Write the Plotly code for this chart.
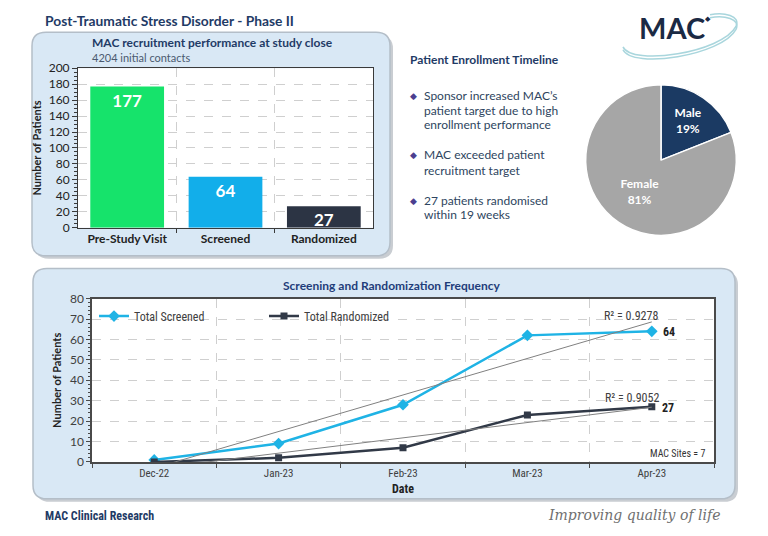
import numpy as np
import plotly.graph_objects as go

# ---------------- data ----------------
bar_categories = ["Pre-Study Visit", "Screened", "Randomized"]
bar_values = [177, 64, 27]
bar_colors = ["#16E36B", "#12AEEA", "#2C3444"]

gender_labels = ["Male", "Female"]
gender_values = [19, 81]

months = ["Dec-22", "Jan-23", "Feb-23", "Mar-23", "Apr-23"]
total_screened = [1, 9, 28, 62, 64]
total_randomized = [0, 2, 7, 23, 27]

bullets = [
    ["Sponsor increased MAC\u2019s", "patient target due to high", "enrollment performance"],
    ["MAC exceeded patient", "recruitment target"],
    ["27 patients randomised", "within 19 weeks"],
]

# ---------------- helpers ----------------
W, H = 768, 536
def X(px): return px / W
def Y(py): return 1 - py / H

def rrect(x0, y0, x1, y1, r):
    return (f"M {X(x0+r)},{Y(y0)} L {X(x1-r)},{Y(y0)} Q {X(x1)},{Y(y0)} {X(x1)},{Y(y0+r)} "
            f"L {X(x1)},{Y(y1-r)} Q {X(x1)},{Y(y1)} {X(x1-r)},{Y(y1)} "
            f"L {X(x0+r)},{Y(y1)} Q {X(x0)},{Y(y1)} {X(x0)},{Y(y1-r)} "
            f"L {X(x0)},{Y(y0+r)} Q {X(x0)},{Y(y0)} {X(x0+r)},{Y(y0)} Z")

FONT = "Lato, Open Sans, sans-serif"
NARROW = "Liberation Sans Narrow, Roboto Condensed, Lato, sans-serif"
NAVY = "#1F3B66"
TXT = "#2E4560"

fig = go.Figure()

# ---------------- bar chart ----------------
bx = list(range(len(bar_categories)))
fig.add_trace(go.Bar(
    x=bx, y=bar_values, marker=dict(color=bar_colors, line=dict(width=0)),
    width=0.75, text=[str(v) for v in bar_values], textposition="inside",
    insidetextanchor="end", textangle=0, constraintext="none",
    textfont=dict(color="white", size=17, family=FONT, weight="bold"),
    xaxis="x", yaxis="y", showlegend=False, hoverinfo="skip"))

# ---------------- pie ----------------
fig.add_trace(go.Pie(
    labels=gender_labels, values=gender_values, sort=False, direction="clockwise",
    rotation=0, marker=dict(colors=["#1B3A63", "#A6A6A6"], line=dict(color="white", width=1.5)),
    texttemplate="<b>%{label}<br>%{percent:.0%}</b>", textposition="inside",
    insidetextorientation="horizontal",
    textfont=dict(color="white", size=12, family=FONT),
    domain=dict(x=[X(583), X(739)], y=[Y(234), Y(79)]), showlegend=False, hoverinfo="skip"))

# ---------------- line chart ----------------
lx = np.arange(len(months))
fig.add_trace(go.Scatter(
    x=lx, y=total_screened, mode="lines+markers", name="Total Screened",
    line=dict(color="#1FB3E5", width=2.5), marker=dict(symbol="diamond", size=9, color="#1FB3E5"),
    xaxis="x2", yaxis="y2"))
fig.add_trace(go.Scatter(
    x=lx, y=total_randomized, mode="lines+markers", name="Total Randomized",
    line=dict(color="#313947", width=2.5), marker=dict(symbol="square", size=7, color="#313947"),
    xaxis="x2", yaxis="y2"))

# linear trendlines (fitted to the series)
for series in (total_screened, total_randomized):
    k, b = np.polyfit(lx, series, 1)
    fig.add_trace(go.Scatter(
        x=lx, y=k * lx + b, mode="lines", line=dict(color="#808080", width=1),
        xaxis="x2", yaxis="y2", showlegend=False, hoverinfo="skip"))

# ---------------- shapes ----------------
shapes = []
for (x0, y0, x1, y1) in [(32, 25, 390, 255), (33, 268, 735, 505)]:
    shapes.append(dict(type="path", xref="paper", yref="paper", layer="below",
                       path=rrect(x0 + 3, y0 + 3, x1 + 3, y1 + 3, 14),
                       fillcolor="#C9CDD2", line=dict(width=0)))
    shapes.append(dict(type="path", xref="paper", yref="paper", layer="below",
                       path=rrect(x0, y0, x1, y1, 14),
                       fillcolor="#D9E8F5", line=dict(color="#B4BEC8", width=1.5)))
for xr, yr in [("x", "y"), ("x2", "y2")]:
    shapes.append(dict(type="rect", xref=f"{xr} domain", yref=f"{yr} domain", layer="below",
                       x0=0, x1=1, y0=0, y1=1, fillcolor="white", line=dict(width=0)))

# logo swoosh
for off in (0, 3):
    p = [(623, 40 + off), (632, 60 + off), (722, 46 + off), (736, 19 + off), (741, 8 + off), (724, 4 + off), (710, 7 + off)]
    path = (f"M {X(p[0][0])},{Y(p[0][1])} C {X(p[1][0])},{Y(p[1][1])} {X(p[2][0])},{Y(p[2][1])} {X(p[3][0])},{Y(p[3][1])} "
            f"C {X(p[4][0])},{Y(p[4][1])} {X(p[5][0])},{Y(p[5][1])} {X(p[6][0])},{Y(p[6][1])}")
    shapes.append(dict(type="path", xref="paper", yref="paper", path=path,
                       line=dict(color="#A9D6DD", width=1.5)))

# ---------------- annotations ----------------
ann = []
def txt(x, y, s, size=12, color=TXT, bold=False, xanchor="left", family=FONT, italic=False, **kw):
    ann.append(dict(x=X(x), y=Y(y), xref="paper", yref="paper", text=s, showarrow=False,
                    xanchor=xanchor, yanchor="middle",
                    font=dict(size=size, color=color, family=family,
                              weight="bold" if bold else "normal",
                              style="italic" if italic else "normal"), **kw))

txt(43, 13, "Post-Traumatic Stress Disorder - Phase II", 13.8, NAVY, True)
txt(90, 35, "MAC recruitment performance at study close", 12, NAVY, True)
txt(90, 51, "4204 initial contacts", 11, "#4A5A70")
txt(408, 53, "Patient Enrollment Timeline", 12, NAVY, True)

ys = [[90, 105, 120], [151, 167], [198, 212]]
for lines, yy in zip(bullets, ys):
    txt(413, yy[0], "\u25C6", 9, "#4B3F8F", xanchor="center")
    for line, y in zip(lines, yy):
        txt(422, y, line, 12, TXT)

# logo
txt(672, 20, "MAC", 29, "#1B2A44", True, xanchor="center")
txt(708, 10, "\u25C6", 7, "#1B2A44", xanchor="center")

txt(392, 286, "Screening and Randomization Frequency", 12, "#1F3D7A", True, xanchor="center")
txt(631, 317, "R\u00b2 = 0.9278", 12, "#404040", xanchor="center", family=NARROW)
txt(632, 401, "R\u00b2 = 0.9052", 12, "#404040", xanchor="center", family=NARROW)
txt(661, 333, str(total_screened[-1]), 12, "#222222", True, family=NARROW)
txt(660, 412, str(total_randomized[-1]), 12, "#222222", True, family=NARROW)
txt(707, 458, "MAC Sites = 7", 10, "#333333", xanchor="right", family=NARROW)

txt(43, 523, "MAC Clinical Research", 12, NAVY, True, family=NARROW)
txt(722, 522, "Improving quality of life", 14, "#707070", xanchor="right",
    family="DejaVu Serif, serif", italic=True)

# ---------------- layout ----------------
grid = dict(gridcolor="#CFCFCF", griddash="dash", gridwidth=1)
fig.update_layout(
    width=W, height=H, autosize=False, margin=dict(l=0, r=0, t=0, b=0),
    paper_bgcolor="white", plot_bgcolor="rgba(0,0,0,0)",
    font=dict(family=FONT, color="#333333"),
    shapes=shapes, annotations=ann,
    xaxis=dict(domain=[X(78), X(373)], anchor="y", range=[-0.5, 2.5],
               tickvals=bx, ticktext=[f"<b>{c}</b>" for c in bar_categories],
               tickfont=dict(size=12, color="#222222"), showgrid=False, zeroline=False,
               showline=True, mirror=True, linecolor="#3A3A3A", linewidth=1, ticks="",
               minor=dict(tickmode="array", tickvals=[0.5, 1.5], showgrid=True,
                          ticks="outside", ticklen=4, tickcolor="#3A3A3A", **grid)),
    yaxis=dict(domain=[Y(226), Y(62)], anchor="x", range=[0, 200], dtick=20,
               tickfont=dict(size=12, color="#222222"), zeroline=False,
               showline=True, mirror=True, linecolor="#3A3A3A", linewidth=1,
               ticks="outside", ticklen=5, tickcolor="#3A3A3A",
               title=dict(text="<b>Number of Patients</b>", font=dict(size=11, color="#222222"), standoff=4),
               showgrid=True, **grid,
               minor=dict(dtick=5, ticks="outside", ticklen=3, tickcolor="#3A3A3A", showgrid=False)),
    xaxis2=dict(domain=[X(92), X(714)], anchor="y2", range=[-0.5, 4.5],
                tickvals=list(lx), ticktext=months, tickfont=dict(size=11, color="#404040", family=NARROW),
                showgrid=False, zeroline=False, showline=True, mirror=True,
                linecolor="#4A4A4A", linewidth=1.5, ticks="",
                title=dict(text="<b>Date</b>", font=dict(size=12, color="#222222", family=NARROW), standoff=6),
                minor=dict(tickmode="array", tickvals=[-0.5, 0.5, 1.5, 2.5, 3.5, 4.5], showgrid=True,
                           ticks="outside", ticklen=4, tickcolor="#4A4A4A", **grid)),
    yaxis2=dict(domain=[Y(467), Y(299)], anchor="x2", range=[0, 80], dtick=10,
                tickfont=dict(size=12, color="#404040"), zeroline=False,
                showline=True, mirror=True, linecolor="#4A4A4A", linewidth=1.5,
                ticks="outside", ticklen=4, tickcolor="#4A4A4A",
                title=dict(text="<b>Number of Patients</b>", font=dict(size=11, color="#222222"), standoff=6),
                showgrid=True, **grid,
                minor=dict(dtick=2, ticks="outside", ticklen=2, tickcolor="#4A4A4A", showgrid=False)),
    legend=dict(x=X(94), y=Y(302), xanchor="left", yanchor="top", orientation="h",
                bgcolor="rgba(0,0,0,0)", font=dict(size=12, color="#404040", family=NARROW),
                entrywidth=125, entrywidthmode="pixels", itemclick=False),
)

fig.write_html("out.html", config={"displayModeBar": False, "staticPlot": False},
               post_script="document.body.style.margin='0';document.body.style.padding='0';")
